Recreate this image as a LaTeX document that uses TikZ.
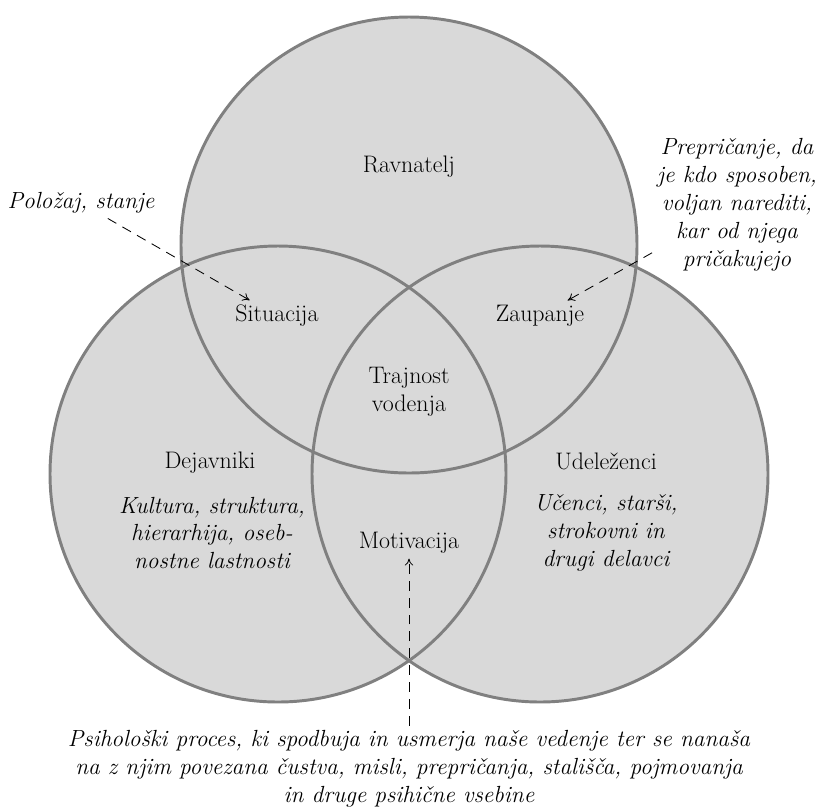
\documentclass[tikz,border=0pt]{standalone}
\usepackage{fontspec}
\usepackage{tikz}
\usetikzlibrary{arrows.meta,positioning}

\definecolor{venngray}{HTML}{D9D9D9}
\definecolor{robgray}{HTML}{808080}

\tikzset{
  oznaka/.style={align=center, font=\fontsize{17}{19.9}\selectfont},
  opomba/.style={align=center, font=\fontsize{16.6}{19.9}\selectfont\itshape},
  puscica/.style={-{To[length=5pt,width=6pt]}, dash pattern=on 7pt off 5pt, line width=0.6pt},
}

\begin{document}
\begin{tikzpicture}[x=0.25mm,y=-0.25mm]
    \useasboundingbox (0,0) rectangle (818,808);

    % krogi
    \fill[venngray] (409,245) circle (228);
    \fill[venngray] (278,474) circle (228);
    \fill[venngray] (540,474) circle (228);
    \draw[robgray,line width=2.1pt] (409,245) circle (228);
    \draw[robgray,line width=2.1pt] (278,474) circle (228);
    \draw[robgray,line width=2.1pt] (540,474) circle (228);

    % oznake v krogih
    \node[oznaka] (ravnatelj) at (409,167) {Ravnatelj};
    \node[oznaka] (situacija) at (277,316) {Situacija};
    \node[oznaka] (zaupanje) at (540,316) {Zaupanje};
    \node[oznaka] (trajnost) at (409,392) {Trajnost\\vodenja};
    \node[oznaka] (dejavniki) at (210,463) {Dejavniki};
    \node[opomba] (kultura) at (212,533) {Kultura, struktura,\\hierarhija, oseb-\\nostne lastnosti};
    \node[oznaka] (udelezenci) at (606,461) {Udeleženci};
    \node[opomba] (ucenci) at (606,533) {Učenci, starši,\\strokovni in\\drugi delavci};
    \node[oznaka] (motivacija) at (409,543) {Motivacija};

    % opombe zunaj
    \node[opomba] (polozaj) at (81,203) {Položaj, stanje};
    \node[opomba] (prepricanje) at (737,205) {Prepričanje, da\\je kdo sposoben,\\voljan narediti,\\kar od njega\\pričakujejo};
    \node[opomba] (proces) at (409,769) {Psihološki proces, ki spodbuja in usmerja naše vedenje ter se nanaša\\na z njim povezana čustva, misli, prepričanja, stališča, pojmovanja\\in druge psihične vsebine};

    \draw[puscica] (polozaj) -- (situacija);
    \draw[puscica] (prepricanje) -- (zaupanje);
    \draw[puscica] (proces) -- (motivacija);
\end{tikzpicture}
\end{document}
